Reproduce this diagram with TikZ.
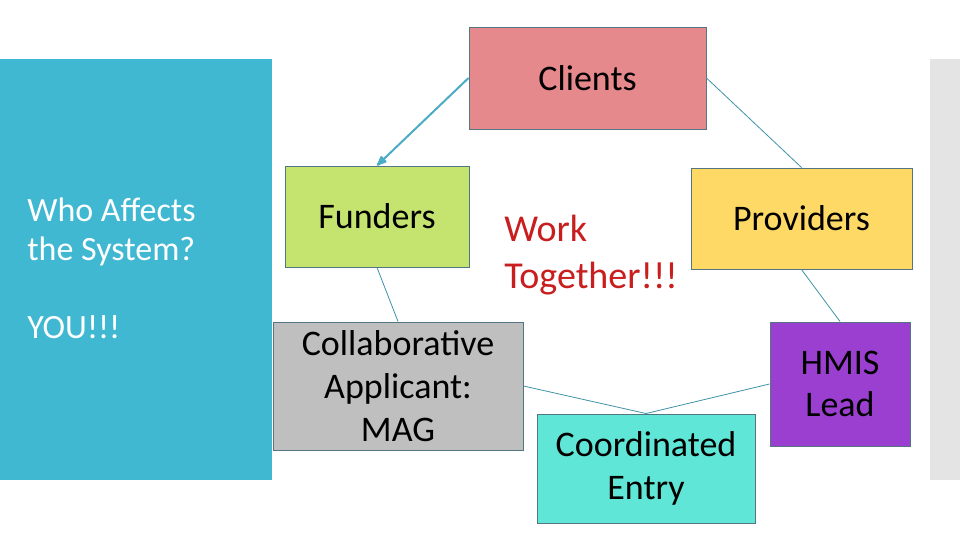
\documentclass[tikz,border=0pt]{standalone}
\usepackage{fontspec}
\setmainfont{Carlito}
\usetikzlibrary{arrows.meta, positioning}
\tikzset{>={Latex[round]}}

\definecolor{panelblue}{RGB}{64,184,210}
\definecolor{stripgray}{RGB}{228,228,228}
\definecolor{boxline}{RGB}{84,118,130}
\definecolor{linkteal}{RGB}{75,172,198}
\definecolor{clientred}{RGB}{230,137,140}
\definecolor{funderlime}{RGB}{197,227,111}
\definecolor{provideryellow}{RGB}{255,217,102}
\definecolor{collabgray}{RGB}{191,191,191}
\definecolor{coordaqua}{RGB}{96,230,214}
\definecolor{hmispurple}{RGB}{154,63,208}
\definecolor{shoutred}{RGB}{200,30,30}

\tikzset{
  box/.style={draw=boxline, line width=0.75pt, align=center, inner sep=0pt,
    font=\fontsize{27}{32}\selectfont},
  link/.style={draw=linkteal!85!black, line width=0.6pt},
}

\begin{document}
\begin{tikzpicture}[x=0.75pt, y=-0.75pt]

% --- Page and side panels ---
\useasboundingbox[fill=white] (0,0) rectangle (960,540);
\fill[panelblue] (0,59) rectangle (272,480);
\fill[stripgray] (930,59) rectangle (960,480);

% --- Title text on the panel ---
\node[anchor=west, align=left, text=white, inner sep=0pt,
      font=\fontsize{25.5}{29.25}\selectfont] (who) at (27,268.5)
  {Who Affects\\the System?\\[29.25pt]YOU!!!};

% --- Boxes ---
\node[box, fill=clientred, minimum width=177.75pt, minimum height=76.5pt] (clients) at (587.5,78) {Clients};
\node[box, fill=funderlime, minimum width=138pt, minimum height=75.75pt] (funders) at (377,216.5) {Funders};
\node[box, fill=provideryellow, minimum width=165.75pt, minimum height=75.75pt] (providers) at (801.5,218.5) {Providers};
\node[box, fill=collabgray, minimum width=187.5pt, minimum height=96pt] (collab) at (398,386) {Collaborative\\Applicant:\\MAG};
\node[box, fill=coordaqua, minimum width=163.5pt, minimum height=81.75pt] (coord) at (646,468.5) {Coordinated\\Entry};
\node[box, fill=hmispurple, minimum width=105pt, minimum height=93pt] (hmis) at (840,384) {HMIS\\Lead};

% --- Centre message ---
\node[anchor=west, align=left, text=shoutred, inner sep=0pt,
      font=\fontsize{28.5}{35.25}\selectfont] (together) at (504,255.5) {Work\\Together!!!};

% --- Connectors ---
\draw[link, draw=linkteal, line width=1.5pt, ->] (clients.west) -- (funders.north);
\draw[link] (clients.east) -- (providers.north);
\draw[link] (funders.south) -- (collab.north);
\draw[link] (collab.east) -- (coord.north);
\draw[link] (hmis.west) -- (coord.north);
\draw[link] (providers.south) -- (hmis.north);

\end{tikzpicture}
\end{document}
